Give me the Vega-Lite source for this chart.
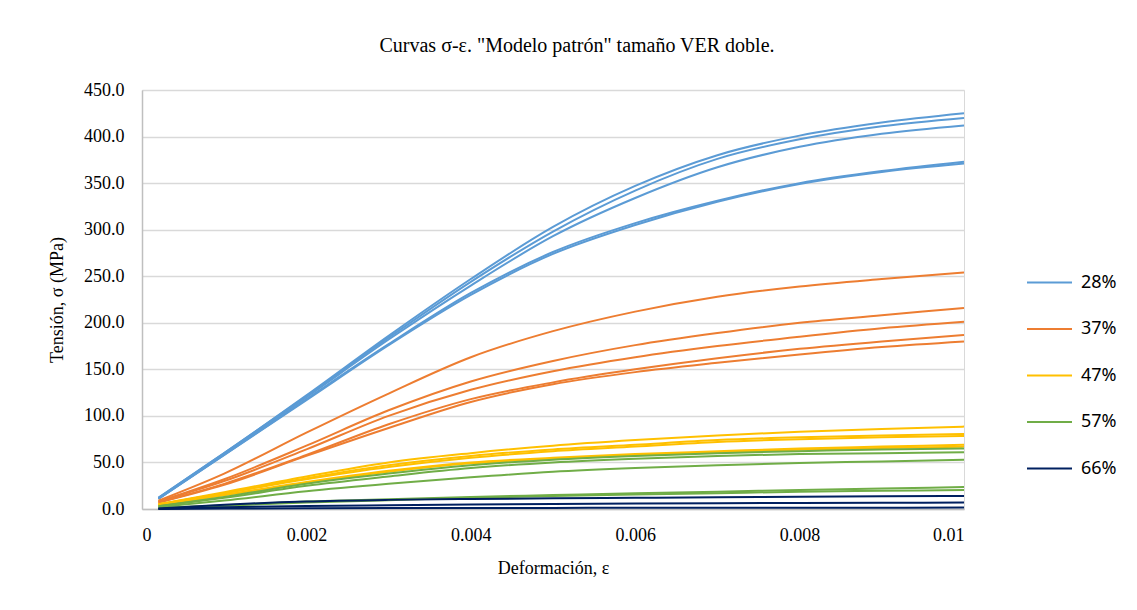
{
 "$schema": "https://vega.github.io/schema/vega-lite/v6.json",
 "width": 822,
 "height": 419,
 "autosize": {"type": "none"},
 "padding": {"left": 142, "top": 90, "right": 173, "bottom": 101},
 "background": "white",
 "title": {"text": "Curvas σ-ε. \"Modelo patrón\" tamaño VER doble.", "font": "Liberation Serif", "fontSize": 20, "fontWeight": "normal", "color": "#000000", "dx": 24, "offset": 25},
 "datasets": {
  "curves": [
   {"c":"28%","s":"a1","x":0.0002,"y":12},{"c":"28%","s":"a1","x":0.001,"y":60},{"c":"28%","s":"a1","x":0.002,"y":122},{"c":"28%","s":"a1","x":0.003,"y":186},{"c":"28%","s":"a1","x":0.004,"y":247},{"c":"28%","s":"a1","x":0.005,"y":303},{"c":"28%","s":"a1","x":0.006,"y":347},{"c":"28%","s":"a1","x":0.007,"y":380},{"c":"28%","s":"a1","x":0.008,"y":401},{"c":"28%","s":"a1","x":0.009,"y":415},{"c":"28%","s":"a1","x":0.01,"y":425},
   {"c":"28%","s":"a2","x":0.0002,"y":12},{"c":"28%","s":"a2","x":0.001,"y":60},{"c":"28%","s":"a2","x":0.002,"y":121},{"c":"28%","s":"a2","x":0.003,"y":184},{"c":"28%","s":"a2","x":0.004,"y":244},{"c":"28%","s":"a2","x":0.005,"y":298},{"c":"28%","s":"a2","x":0.006,"y":342},{"c":"28%","s":"a2","x":0.007,"y":376},{"c":"28%","s":"a2","x":0.008,"y":397},{"c":"28%","s":"a2","x":0.009,"y":411},{"c":"28%","s":"a2","x":0.01,"y":420},
   {"c":"28%","s":"a3","x":0.0002,"y":11},{"c":"28%","s":"a3","x":0.001,"y":59},{"c":"28%","s":"a3","x":0.002,"y":120},{"c":"28%","s":"a3","x":0.003,"y":182},{"c":"28%","s":"a3","x":0.004,"y":240},{"c":"28%","s":"a3","x":0.005,"y":293},{"c":"28%","s":"a3","x":0.006,"y":334},{"c":"28%","s":"a3","x":0.007,"y":367},{"c":"28%","s":"a3","x":0.008,"y":389},{"c":"28%","s":"a3","x":0.009,"y":403},{"c":"28%","s":"a3","x":0.01,"y":412},
   {"c":"28%","s":"a4","x":0.0002,"y":11},{"c":"28%","s":"a4","x":0.001,"y":58},{"c":"28%","s":"a4","x":0.002,"y":118},{"c":"28%","s":"a4","x":0.003,"y":177},{"c":"28%","s":"a4","x":0.004,"y":232},{"c":"28%","s":"a4","x":0.005,"y":276},{"c":"28%","s":"a4","x":0.006,"y":307},{"c":"28%","s":"a4","x":0.007,"y":331},{"c":"28%","s":"a4","x":0.008,"y":350},{"c":"28%","s":"a4","x":0.009,"y":363},{"c":"28%","s":"a4","x":0.01,"y":373},
   {"c":"28%","s":"a5","x":0.0002,"y":11},{"c":"28%","s":"a5","x":0.001,"y":58},{"c":"28%","s":"a5","x":0.002,"y":117},{"c":"28%","s":"a5","x":0.003,"y":176},{"c":"28%","s":"a5","x":0.004,"y":230},{"c":"28%","s":"a5","x":0.005,"y":274},{"c":"28%","s":"a5","x":0.006,"y":305},{"c":"28%","s":"a5","x":0.007,"y":330},{"c":"28%","s":"a5","x":0.008,"y":349},{"c":"28%","s":"a5","x":0.009,"y":362},{"c":"28%","s":"a5","x":0.01,"y":371},
   {"c":"37%","s":"b1","x":0.0002,"y":9},{"c":"37%","s":"b1","x":0.001,"y":38},{"c":"37%","s":"b1","x":0.002,"y":82},{"c":"37%","s":"b1","x":0.003,"y":124},{"c":"37%","s":"b1","x":0.004,"y":163},{"c":"37%","s":"b1","x":0.005,"y":191},{"c":"37%","s":"b1","x":0.006,"y":212},{"c":"37%","s":"b1","x":0.007,"y":228},{"c":"37%","s":"b1","x":0.008,"y":239},{"c":"37%","s":"b1","x":0.009,"y":247},{"c":"37%","s":"b1","x":0.01,"y":254},
   {"c":"37%","s":"b2","x":0.0002,"y":8},{"c":"37%","s":"b2","x":0.001,"y":32},{"c":"37%","s":"b2","x":0.002,"y":68},{"c":"37%","s":"b2","x":0.003,"y":106},{"c":"37%","s":"b2","x":0.004,"y":137},{"c":"37%","s":"b2","x":0.005,"y":159},{"c":"37%","s":"b2","x":0.006,"y":176},{"c":"37%","s":"b2","x":0.007,"y":189},{"c":"37%","s":"b2","x":0.008,"y":200},{"c":"37%","s":"b2","x":0.009,"y":208},{"c":"37%","s":"b2","x":0.01,"y":216},
   {"c":"37%","s":"b3","x":0.0002,"y":8},{"c":"37%","s":"b3","x":0.001,"y":30},{"c":"37%","s":"b3","x":0.002,"y":64},{"c":"37%","s":"b3","x":0.003,"y":100},{"c":"37%","s":"b3","x":0.004,"y":128},{"c":"37%","s":"b3","x":0.005,"y":148},{"c":"37%","s":"b3","x":0.006,"y":163},{"c":"37%","s":"b3","x":0.007,"y":175},{"c":"37%","s":"b3","x":0.008,"y":185},{"c":"37%","s":"b3","x":0.009,"y":194},{"c":"37%","s":"b3","x":0.01,"y":201},
   {"c":"37%","s":"b4","x":0.0002,"y":7},{"c":"37%","s":"b4","x":0.001,"y":27},{"c":"37%","s":"b4","x":0.002,"y":58},{"c":"37%","s":"b4","x":0.003,"y":91},{"c":"37%","s":"b4","x":0.004,"y":118},{"c":"37%","s":"b4","x":0.005,"y":136},{"c":"37%","s":"b4","x":0.006,"y":150},{"c":"37%","s":"b4","x":0.007,"y":162},{"c":"37%","s":"b4","x":0.008,"y":172},{"c":"37%","s":"b4","x":0.009,"y":180},{"c":"37%","s":"b4","x":0.01,"y":187},
   {"c":"37%","s":"b5","x":0.0002,"y":7},{"c":"37%","s":"b5","x":0.001,"y":26},{"c":"37%","s":"b5","x":0.002,"y":57},{"c":"37%","s":"b5","x":0.003,"y":87},{"c":"37%","s":"b5","x":0.004,"y":115},{"c":"37%","s":"b5","x":0.005,"y":134},{"c":"37%","s":"b5","x":0.006,"y":147},{"c":"37%","s":"b5","x":0.007,"y":157},{"c":"37%","s":"b5","x":0.008,"y":166},{"c":"37%","s":"b5","x":0.009,"y":174},{"c":"37%","s":"b5","x":0.01,"y":180},
   {"c":"47%","s":"c1","x":0.0002,"y":5},{"c":"47%","s":"c1","x":0.001,"y":18},{"c":"47%","s":"c1","x":0.002,"y":35},{"c":"47%","s":"c1","x":0.003,"y":50},{"c":"47%","s":"c1","x":0.004,"y":60},{"c":"47%","s":"c1","x":0.005,"y":68},{"c":"47%","s":"c1","x":0.006,"y":74},{"c":"47%","s":"c1","x":0.007,"y":79},{"c":"47%","s":"c1","x":0.008,"y":83},{"c":"47%","s":"c1","x":0.009,"y":86},{"c":"47%","s":"c1","x":0.01,"y":88.5},
   {"c":"47%","s":"c2","x":0.0002,"y":5},{"c":"47%","s":"c2","x":0.001,"y":17},{"c":"47%","s":"c2","x":0.002,"y":33},{"c":"47%","s":"c2","x":0.003,"y":47},{"c":"47%","s":"c2","x":0.004,"y":57},{"c":"47%","s":"c2","x":0.005,"y":64},{"c":"47%","s":"c2","x":0.006,"y":69},{"c":"47%","s":"c2","x":0.007,"y":74},{"c":"47%","s":"c2","x":0.008,"y":77},{"c":"47%","s":"c2","x":0.009,"y":79},{"c":"47%","s":"c2","x":0.01,"y":80.5},
   {"c":"47%","s":"c3","x":0.0002,"y":5},{"c":"47%","s":"c3","x":0.001,"y":17},{"c":"47%","s":"c3","x":0.002,"y":32},{"c":"47%","s":"c3","x":0.003,"y":45},{"c":"47%","s":"c3","x":0.004,"y":55},{"c":"47%","s":"c3","x":0.005,"y":62},{"c":"47%","s":"c3","x":0.006,"y":67},{"c":"47%","s":"c3","x":0.007,"y":72},{"c":"47%","s":"c3","x":0.008,"y":75},{"c":"47%","s":"c3","x":0.009,"y":77},{"c":"47%","s":"c3","x":0.01,"y":78.5},
   {"c":"47%","s":"c4","x":0.0002,"y":4},{"c":"47%","s":"c4","x":0.001,"y":15},{"c":"47%","s":"c4","x":0.002,"y":29},{"c":"47%","s":"c4","x":0.003,"y":41},{"c":"47%","s":"c4","x":0.004,"y":50},{"c":"47%","s":"c4","x":0.005,"y":55},{"c":"47%","s":"c4","x":0.006,"y":59},{"c":"47%","s":"c4","x":0.007,"y":62},{"c":"47%","s":"c4","x":0.008,"y":65},{"c":"47%","s":"c4","x":0.009,"y":67},{"c":"47%","s":"c4","x":0.01,"y":69},
   {"c":"47%","s":"c5","x":0.0002,"y":4},{"c":"47%","s":"c5","x":0.001,"y":15},{"c":"47%","s":"c5","x":0.002,"y":28},{"c":"47%","s":"c5","x":0.003,"y":40},{"c":"47%","s":"c5","x":0.004,"y":49},{"c":"47%","s":"c5","x":0.005,"y":54},{"c":"47%","s":"c5","x":0.006,"y":58},{"c":"47%","s":"c5","x":0.007,"y":61},{"c":"47%","s":"c5","x":0.008,"y":63.5},{"c":"47%","s":"c5","x":0.009,"y":65.5},{"c":"47%","s":"c5","x":0.01,"y":67},
   {"c":"57%","s":"d1","x":0.0002,"y":3},{"c":"57%","s":"d1","x":0.001,"y":13},{"c":"57%","s":"d1","x":0.002,"y":27},{"c":"57%","s":"d1","x":0.003,"y":38},{"c":"57%","s":"d1","x":0.004,"y":47},{"c":"57%","s":"d1","x":0.005,"y":53},{"c":"57%","s":"d1","x":0.006,"y":57},{"c":"57%","s":"d1","x":0.007,"y":60},{"c":"57%","s":"d1","x":0.008,"y":62},{"c":"57%","s":"d1","x":0.009,"y":64},{"c":"57%","s":"d1","x":0.01,"y":65},
   {"c":"57%","s":"d2","x":0.0002,"y":3},{"c":"57%","s":"d2","x":0.001,"y":12},{"c":"57%","s":"d2","x":0.002,"y":25},{"c":"57%","s":"d2","x":0.003,"y":35},{"c":"57%","s":"d2","x":0.004,"y":44},{"c":"57%","s":"d2","x":0.005,"y":50},{"c":"57%","s":"d2","x":0.006,"y":54},{"c":"57%","s":"d2","x":0.007,"y":57},{"c":"57%","s":"d2","x":0.008,"y":59},{"c":"57%","s":"d2","x":0.009,"y":60},{"c":"57%","s":"d2","x":0.01,"y":61},
   {"c":"57%","s":"d3","x":0.0002,"y":2},{"c":"57%","s":"d3","x":0.001,"y":9},{"c":"57%","s":"d3","x":0.002,"y":19},{"c":"57%","s":"d3","x":0.003,"y":27},{"c":"57%","s":"d3","x":0.004,"y":34},{"c":"57%","s":"d3","x":0.005,"y":40},{"c":"57%","s":"d3","x":0.006,"y":44},{"c":"57%","s":"d3","x":0.007,"y":47},{"c":"57%","s":"d3","x":0.008,"y":49.5},{"c":"57%","s":"d3","x":0.009,"y":51},{"c":"57%","s":"d3","x":0.01,"y":53},
   {"c":"57%","s":"d4","x":0.0002,"y":1},{"c":"57%","s":"d4","x":0.001,"y":4},{"c":"57%","s":"d4","x":0.002,"y":8},{"c":"57%","s":"d4","x":0.003,"y":10.5},{"c":"57%","s":"d4","x":0.004,"y":13},{"c":"57%","s":"d4","x":0.005,"y":15},{"c":"57%","s":"d4","x":0.006,"y":17},{"c":"57%","s":"d4","x":0.007,"y":18.5},{"c":"57%","s":"d4","x":0.008,"y":20.5},{"c":"57%","s":"d4","x":0.009,"y":22},{"c":"57%","s":"d4","x":0.01,"y":23.5},
   {"c":"57%","s":"d5","x":0.0002,"y":1},{"c":"57%","s":"d5","x":0.001,"y":3.5},{"c":"57%","s":"d5","x":0.002,"y":7},{"c":"57%","s":"d5","x":0.003,"y":9.5},{"c":"57%","s":"d5","x":0.004,"y":12},{"c":"57%","s":"d5","x":0.005,"y":14},{"c":"57%","s":"d5","x":0.006,"y":15.5},{"c":"57%","s":"d5","x":0.007,"y":17},{"c":"57%","s":"d5","x":0.008,"y":18.5},{"c":"57%","s":"d5","x":0.009,"y":19.5},{"c":"57%","s":"d5","x":0.01,"y":20.5},
   {"c":"66%","s":"e1","x":0.0002,"y":0.5},{"c":"66%","s":"e1","x":0.001,"y":4.5},{"c":"66%","s":"e1","x":0.002,"y":8},{"c":"66%","s":"e1","x":0.003,"y":9.8},{"c":"66%","s":"e1","x":0.004,"y":10.8},{"c":"66%","s":"e1","x":0.005,"y":11.5},{"c":"66%","s":"e1","x":0.006,"y":12},{"c":"66%","s":"e1","x":0.007,"y":12.5},{"c":"66%","s":"e1","x":0.008,"y":13.2},{"c":"66%","s":"e1","x":0.009,"y":13.7},{"c":"66%","s":"e1","x":0.01,"y":14},
   {"c":"66%","s":"e2","x":0.0002,"y":0.3},{"c":"66%","s":"e2","x":0.001,"y":1.8},{"c":"66%","s":"e2","x":0.002,"y":3.2},{"c":"66%","s":"e2","x":0.003,"y":4},{"c":"66%","s":"e2","x":0.004,"y":4.7},{"c":"66%","s":"e2","x":0.005,"y":5.3},{"c":"66%","s":"e2","x":0.006,"y":5.8},{"c":"66%","s":"e2","x":0.007,"y":6.2},{"c":"66%","s":"e2","x":0.008,"y":6.5},{"c":"66%","s":"e2","x":0.009,"y":6.7},{"c":"66%","s":"e2","x":0.01,"y":6.9},
   {"c":"66%","s":"e3","x":0.0002,"y":0.1},{"c":"66%","s":"e3","x":0.001,"y":0.5},{"c":"66%","s":"e3","x":0.002,"y":0.8},{"c":"66%","s":"e3","x":0.003,"y":1},{"c":"66%","s":"e3","x":0.004,"y":1.1},{"c":"66%","s":"e3","x":0.005,"y":1.2},{"c":"66%","s":"e3","x":0.006,"y":1.3},{"c":"66%","s":"e3","x":0.007,"y":1.3},{"c":"66%","s":"e3","x":0.008,"y":1.4},{"c":"66%","s":"e3","x":0.009,"y":1.4},{"c":"66%","s":"e3","x":0.01,"y":1.5}
  ]
 },
 "data": {"name": "curves"},
 "mark": {"type": "line", "interpolate": "monotone", "strokeWidth": 2, "clip": false},
 "encoding": {
  "x": {"field": "x", "type": "quantitative", "scale": {"domain": [0, 0.01], "nice": false, "zero": true},
        "axis": {"values": [0, 0.002, 0.004, 0.006, 0.008, 0.01], "format": "~g", "grid": false, "title": "Deformación, ε", "labelPadding": 17, "titlePadding": 15}},
  "y": {"field": "y", "type": "quantitative", "scale": {"domain": [0, 450], "nice": false},
        "axis": {"values": [0, 50, 100, 150, 200, 250, 300, 350, 400, 450], "format": ".1f", "title": "Tensión, σ (MPa)", "labelPadding": 18, "titlePadding": 17}},
  "color": {"field": "c", "type": "nominal",
            "scale": {"domain": ["28%", "37%", "47%", "57%", "66%"], "range": ["#5b9bd5", "#ed7d31", "#ffc000", "#70ad47", "#002060"]},
            "legend": {"title": null, "orient": "none", "legendX": 884, "legendY": 169, "symbolType": "stroke", "symbolSize": 2025, "symbolStrokeWidth": 2, "rowPadding": 13.5, "labelOffset": 8, "labelFont": "Noto Sans", "labelFontSize": 18, "labelColor": "#000000", "padding": 0}},
  "detail": {"field": "s", "type": "nominal"}
 },
 "config": {
  "view": {"stroke": "#d9d9d9", "strokeWidth": 1},
  "axis": {"labelFont": "Liberation Serif", "labelFontSize": 18, "labelColor": "#000000", "titleFont": "Liberation Serif", "titleFontSize": 18, "titleFontWeight": "normal", "titleColor": "#000000", "ticks": false, "domainColor": "#bfbfbf", "domainWidth": 1.5, "gridColor": "#d9d9d9", "gridWidth": 1.3}
 }
}
